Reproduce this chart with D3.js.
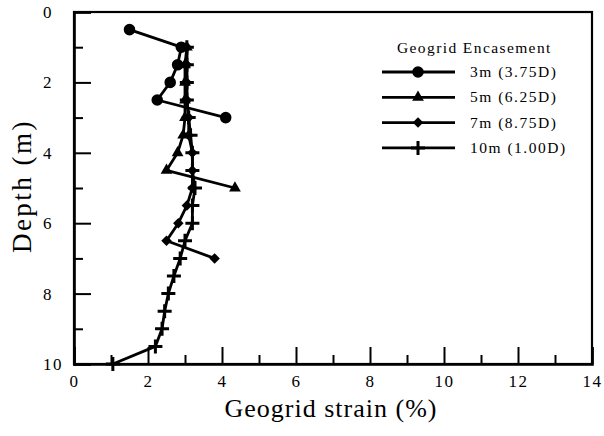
<!DOCTYPE html>
<html>
<head>
    <meta charset="UTF-8">
    <title>Geogrid strain</title>
    <script src="https://cdnjs.cloudflare.com/ajax/libs/d3/7.8.5/d3.min.js"></script>
    <style>
        body { margin: 0; background: #fff; }
        text { font-family: "Liberation Serif", "Times New Roman", serif; fill: #000; }
    </style>
</head>
<body>
<svg id="chart" width="604" height="436"></svg>
<script>

    // depth (m) and strain (%) for each encasement length
    var depth3 = [0.5, 1, 1.5, 2, 2.5, 3]
    var strain3 = [1.5, 2.9, 2.8, 2.6, 2.25, 4.1]

    var depth5 = [1, 1.5, 2, 2.5, 3, 3.5, 4, 4.5, 5]
    var strain5 = [3.05, 3.0, 3.0, 3.0, 3.0, 2.95, 2.8, 2.5, 4.35]

    var depth7 = [1, 1.5, 2, 2.5, 3, 3.5, 4, 4.5, 5, 5.5, 6, 6.5, 7]
    var strain7 = [3.05, 3.05, 3.05, 3.05, 3.1, 3.1, 3.2, 3.2, 3.2, 3.05, 2.82, 2.5, 3.8]

    var depth10 = [1, 1.5, 2, 2.5, 3, 3.5, 4, 4.5, 5, 5.5, 6, 6.5, 7, 7.5, 8, 8.5, 9, 9.5, 10]
    var strain10 = [3.05, 3.05, 3.05, 3.05, 3.1, 3.15, 3.2, 3.2, 3.27, 3.2, 3.2, 3.0, 2.87, 2.7, 2.55, 2.45, 2.38, 2.2, 1.05]

    var seriesNames = ["3m (3.75D)", "5m (6.25D)", "7m (8.75D)", "10m (1.00D)"]
    var xTicks = [0, 2, 4, 6, 8, 10, 12, 14]
    var yTicks = [0, 2, 4, 6, 8, 10]

    var series = [
        { name: seriesNames[0], marker: "circle", depth: depth3, strain: strain3 },
        { name: seriesNames[1], marker: "triangle", depth: depth5, strain: strain5 },
        { name: seriesNames[2], marker: "diamond", depth: depth7, strain: strain7 },
        { name: seriesNames[3], marker: "plus", depth: depth10, strain: strain10 }
    ]

    var margin = { top: 12, right: 12, bottom: 72, left: 74 }
    var width = 604 - margin.left - margin.right
    var height = 436 - margin.top - margin.bottom

    var svg = d3.select("#chart")
    var g = svg.append("g")
        .attr("transform", "translate(" + margin.left + "," + margin.top + ")")

    var x = d3.scaleLinear().domain([0, 14]).range([0, width])
    var y = d3.scaleLinear().domain([0, 10]).range([0, height])

    // frame
    g.append("rect")
        .attr("width", width).attr("height", height)
        .attr("fill", "none").attr("stroke", "#000").attr("stroke-width", 2.2)

    // minor ticks
    g.append("g")
        .attr("transform", "translate(0," + height + ")")
        .call(d3.axisBottom(x).tickValues(d3.range(1, 14, 2)).tickSize(-9).tickFormat(""))
        .call(s => s.select(".domain").remove())
    g.append("g")
        .call(d3.axisLeft(y).tickValues(d3.range(1, 10, 2)).tickSize(-9).tickFormat(""))
        .call(s => s.select(".domain").remove())

    // major ticks and labels
    var xAxis = g.append("g")
        .attr("class", "axis x")
        .attr("transform", "translate(0," + height + ")")
        .call(d3.axisBottom(x).tickValues(xTicks).tickSize(-17).tickPadding(11))
    xAxis.select(".domain").attr("stroke-width", 2.6)

    var yAxis = g.append("g")
        .attr("class", "axis y")
        .call(d3.axisLeft(y).tickValues(yTicks).tickSize(-17))
    yAxis.select(".domain").attr("stroke-width", 2.6)
    yAxis.selectAll(".tick text").attr("text-anchor", "start").attr("x", -31)

    g.selectAll(".tick line").attr("stroke-width", 2)
    g.selectAll(".tick text")
        .attr("font-size", 17)
        .attr("letter-spacing", 1.5)
        .attr("font-family", "Liberation Serif")

    // axis titles
    svg.append("text")
        .attr("x", margin.left + width / 2 - 2)
        .attr("y", 417)
        .attr("text-anchor", "middle")
        .attr("font-size", 26)
        .attr("letter-spacing", 1)
        .text("Geogrid strain (%)")

    svg.append("text")
        .attr("transform", "translate(31,186) rotate(-90)")
        .attr("text-anchor", "middle")
        .attr("font-size", 27)
        .attr("letter-spacing", 2.5)
        .text("Depth (m)")

    // markers
    function marker(sel, type) {
        if (type == "plus") {
            sel.append("path")
                .attr("d", "M-7,0H7M0,-7V7")
                .attr("stroke", "#000").attr("stroke-width", 3).attr("fill", "none")
        } else if (type == "diamond") {
            sel.append("path")
                .attr("d", d3.symbol(d3.symbolSquare, 55)())
                .attr("transform", "rotate(45)")
                .attr("fill", "#000")
        } else if (type == "triangle") {
            sel.append("path")
                .attr("d", d3.symbol(d3.symbolTriangle, 60)())
                .attr("fill", "#000")
        } else {
            sel.append("path")
                .attr("d", d3.symbol(d3.symbolCircle, 105)())
                .attr("fill", "#000")
        }
    }

    var line = d3.line()
        .x(function (d) { return x(d[1]) })
        .y(function (d) { return y(d[0]) })

    series.forEach(function (s) {
        var pts = d3.zip(s.depth, s.strain)
        g.append("path")
            .datum(pts)
            .attr("fill", "none")
            .attr("stroke", "#000")
            .attr("stroke-width", 2.8)
            .attr("stroke-linejoin", "round")
            .attr("d", line)
        g.selectAll(null)
            .data(pts)
            .enter().append("g")
            .attr("transform", function (d) { return "translate(" + x(d[1]) + "," + y(d[0]) + ")" })
            .each(function () { marker(d3.select(this), s.marker) })
    })

    // legend
    var legend = svg.append("g").attr("transform", "translate(382,0)")
    legend.append("text")
        .attr("x", 15).attr("y", 53)
        .attr("font-size", 15.5)
        .attr("letter-spacing", 1.4)
        .text("Geogrid Encasement")

    var rows = legend.selectAll(".row")
        .data(series)
        .enter().append("g")
        .attr("class", "row")
        .attr("transform", function (d, i) { return "translate(0," + (72 + i * 25.3) + ")" })
    rows.append("line")
        .attr("x1", 0).attr("x2", 73)
        .attr("stroke", "#000").attr("stroke-width", 2.8)
    rows.append("g")
        .attr("transform", "translate(36,0)")
        .each(function (d) { marker(d3.select(this), d.marker) })
    rows.append("text")
        .attr("x", 88).attr("y", 5)
        .attr("font-size", 15.5)
        .attr("letter-spacing", 1.5)
        .text(function (d) { return d.name })

</script>
</body>
</html>
